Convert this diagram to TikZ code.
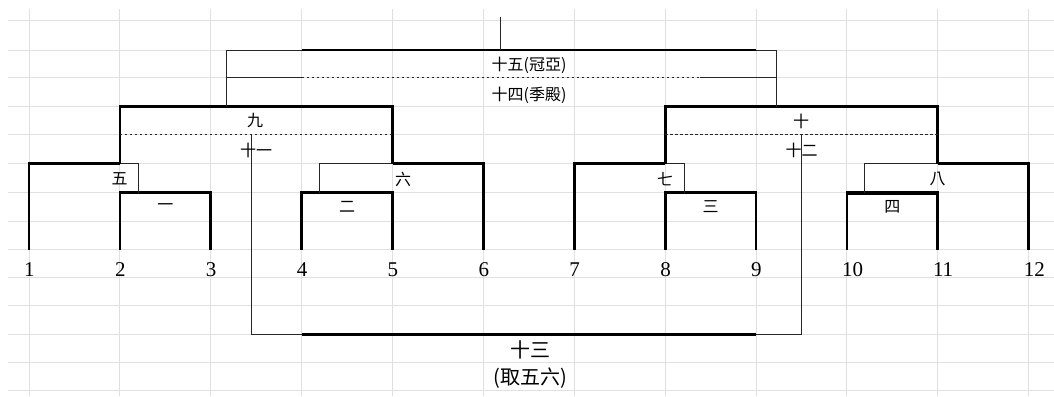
\documentclass[tikz,border=0pt]{standalone}
\usepackage{fontspec}
\setmainfont{Liberation Serif}
\newfontfamily\cjk{Noto Sans CJK TC}
\definecolor{gridgray}{RGB}{224,224,224}
\def\xA{29}\def\xB{119.88}\def\xC{210.76}\def\xD{301.64}\def\xE{392.52}\def\xF{483.4}
\def\xG{574.28}\def\xH{665.16}\def\xI{756.04}\def\xJ{846.92}\def\xK{937.8}\def\xL{1028.68}
\def\rB{50}\def\rC{77.7}\def\rD{106.7}\def\rE{134.7}\def\rF{163.7}\def\rG{192.7}\def\rI{249.7}\def\rL{334.3}
\begin{document}
\begin{tikzpicture}[x=1bp,y=-1bp,
  thinln/.style={line width=1bp,black!85},
  thickln/.style={line width=2.7bp,black,line join=miter},
  dotln/.style={line width=1bp,black!85,dash pattern=on 2.5bp off 2.5bp},
  gridl/.style={line width=1bp,gridgray},
  lab/.style={font=\cjk\fontsize{16bp}{18bp}\selectfont,inner sep=0pt},
  biglab/.style={font=\cjk\fontsize{20bp}{22bp}\selectfont,inner sep=0pt},
  num/.style={font=\fontsize{21bp}{23bp}\selectfont,inner sep=0pt,anchor=base west}]
\useasboundingbox (0,0) rectangle (1054,396);
\fill[white] (0,0) rectangle (1054,396);
% grid
\foreach \x in {\xA,\xB,\xC,\xD,\xE,\xF,\xG,\xH,\xI,\xJ,\xK,\xL}
  \draw[gridl] (\x,9) -- (\x,396);
\foreach \y in {20.7,50,77.7,106.7,134.7,163.7,192.7,221.7,249.7,277.3,305.3,334.3,362,390}
  \draw[gridl] (8,\y) -- (1054,\y);
% player columns (bottom ends)
\coordinate (p1) at (\xA,\rI); \coordinate (p2) at (\xB,\rI); \coordinate (p3) at (\xC,\rI);
\coordinate (p4) at (\xD,\rI); \coordinate (p5) at (\xE,\rI); \coordinate (p6) at (\xF,\rI);
\coordinate (p7) at (\xG,\rI); \coordinate (p8) at (\xH,\rI); \coordinate (p9) at (\xI,\rI);
\coordinate (p10) at (\xJ,\rI); \coordinate (p11) at (\xK,\rI); \coordinate (p12) at (\xL,\rI);
% first round
\draw[thickln] (p2) -- (\xB,\rG) -- (\xC,\rG) -- (p3);
\draw[thickln] (p4) -- (\xD,\rG) -- (\xE,\rG) -- (p5);
\draw[thickln] (p8) -- (\xH,\rG) -- (\xI,\rG) -- (p9);
\draw[thickln] (p10) -- (\xJ,\rG) -- (\xK,\rG) -- (p11);
\draw[line width=3.6bp] (\xJ,\rG) -- (\xK,\rG);
\node[lab] (m1) at ({(\xB+\xC)/2},207) {一};
\node[lab] (m2) at ({(\xD+\xE)/2},207) {二};
\node[lab] (m3) at ({(\xH+\xI)/2},207) {三};
\node[lab] (m4) at ({(\xJ+\xK)/2},207) {四};
% second round
\draw[thickln] (p1) -- (\xA,\rF) -- (\xB,\rF);
\draw[thinln] (\xB,\rF) -- (138,\rF) -- (138,\rG);
\draw[thickln] (p6) -- (\xF,\rF) -- (\xE,\rF);
\draw[thinln] (\xE,\rF) -- (319,\rF) -- (319,\rG);
\draw[thickln] (p7) -- (\xG,\rF) -- (\xH,\rF);
\draw[thinln] (\xH,\rF) -- (684,\rF) -- (684,\rG);
\draw[thickln] (p12) -- (\xL,\rF) -- (\xK,\rF);
\draw[thinln] (\xK,\rF) -- (864.3,\rF) -- (864.3,\rG);
\node[lab] (m5) at (119.5,179) {五};
\node[lab] (m6) at (403,179) {六};
\node[lab] (m7) at (665,179) {七};
\node[lab] (m8) at (937.6,179) {八};
% semifinals
\draw[thickln] (\xB,\rF) -- (\xB,\rD) -- (\xE,\rD) -- (\xE,\rF);
\draw[dotln] (\xB,\rE) -- (\xE,\rE);
\draw[thickln] (\xH,\rF) -- (\xH,\rD) -- (\xK,\rD) -- (\xK,\rF);
\draw[dotln] (\xH,\rE) -- (\xK,\rE);
\node[lab] (m9) at (255,121) {九};
\node[lab] (m10) at (801,121) {十};
% 13th match (losers of 11 & 12)
\draw[thinln] (251.7,\rE) -- (251.7,\rL) -- (\xD,\rL);
\draw[thickln] (\xD,\rL) -- (\xI,\rL);
\draw[thinln] (\xI,\rL) -- (801.7,\rL) -- (801.7,\rE);
\node[lab,fill=none] (m11) at (256,150) {十一};
\node[lab] (m12) at (801.5,150) {十二};
\node[biglab] (m13) at (530,350) {十三};
\node[biglab] (m13b) at (530,378.5) {(取五六)};
% final
\draw[thinln] (226,\rD) -- (226,\rB) -- (\xD,\rB);
\draw[thickln] (\xD,\rB) -- (\xI,\rB);
\draw[thinln] (\xI,\rB) -- (776,\rB) -- (776,\rD);
\draw[thinln] (226,\rC) -- (\xD,\rC);
\draw[dotln] (\xD,\rC) -- (700,\rC);
\draw[thinln] (700,\rC) -- (776,\rC);
\draw[thinln] (500,16.7) -- (500,\rB);
\node[lab] (m15) at (529,65.5) {十五(冠亞)};
\node[lab] (m14) at (529,95) {十四(季殿)};
% player numbers
\node[num] (n1) at (\xA-5,276) {1};
\node[num] (n2) at (\xB-5,276) {2};
\node[num] (n3) at (\xC-5,276) {3};
\node[num] (n4) at (\xD-5,276) {4};
\node[num] (n5) at (\xE-5,276) {5};
\node[num] (n6) at (\xF-5,276) {6};
\node[num] (n7) at (\xG-5,276) {7};
\node[num] (n8) at (\xH-5,276) {8};
\node[num] (n9) at (\xI-5,276) {9};
\node[num] (n10) at (\xJ-5,276) {10};
\node[num] (n11) at (\xK-5,276) {11};
\node[num] (n12) at (\xL-5,276) {12};
\end{tikzpicture}
\end{document}
